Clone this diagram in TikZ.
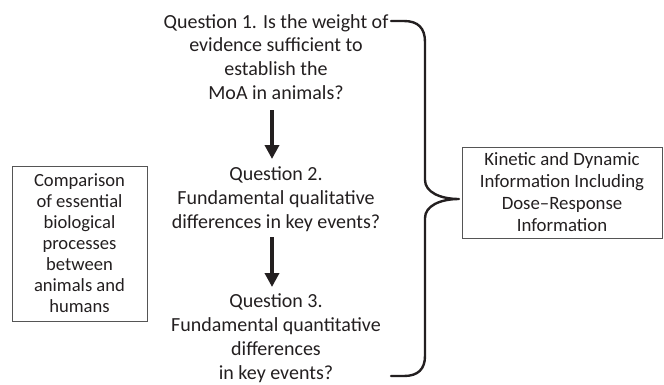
\documentclass[tikz,border=0pt]{standalone}
\usepackage{fontspec}
\setmainfont{Carlito}
\usetikzlibrary{arrows.meta}
\definecolor{ink}{HTML}{231F20}
\definecolor{frame}{HTML}{555555}
\begin{document}
\begin{tikzpicture}[x=1pt,y=-1pt,
  qtext/.style={align=center,inner sep=0pt,text=ink,font=\fontsize{20}{23.8}\selectfont},
  sidebox/.style={draw=frame,line width=0.9pt,inner sep=0pt,text=ink,align=center},
  flowarrow/.style={draw=ink,line width=4pt,-{Triangle[width=14pt,length=14pt]}},
  bracepath/.style={draw=ink,line width=2.4pt,line cap=round,line join=round}]
\useasboundingbox (0,0) rectangle (664,384);
% question texts
\node[qtext] (q1) at (276,57) {Question 1. Is the weight of\\evidence sufficient to\\establish the\\MoA in animals?};
\node[qtext] (q2) at (276,199) {Question 2.\\Fundamental qualitative\\differences in key events?};
\node[qtext] (q3) at (276,338) {Question 3.\\Fundamental quantitative\\differences\\in key events?};
% side boxes
\node[sidebox,minimum width=135pt,minimum height=155pt,font=\fontsize{18.6}{21}\selectfont] (cmp) at (79.5,243.5)
  {Comparison\\of essential\\biological\\processes\\between\\animals and\\humans};
\node[sidebox,minimum width=200pt,minimum height=91pt,font=\fontsize{18.8}{22}\selectfont] (kin) at (562,192.5)
  {Kinetic and Dynamic\\Information Including\\Dose--Response\\Information};
% arrows
\coordinate (a1s) at (272,110);
\coordinate (a1e) at (272,159);
\coordinate (a2s) at (272,237);
\coordinate (a2e) at (272,287);
\draw[flowarrow] (a1s) -- (a1e);
\draw[flowarrow] (a2s) -- (a2e);
% brace
\coordinate (btop) at (391,21);
\coordinate (bbot) at (391,376);
\coordinate (btip) at (459,199);
\draw[bracepath] (btop) -- (404,21) .. controls (418,21) and (425,28) .. (425,42)
  -- (425,180) .. controls (425,192) and (440,199) .. (btip)
  .. controls (440,199) and (425,206) .. (425,218)
  -- (425,356) .. controls (425,369) and (418,376) .. (404,376) -- (bbot);
\end{tikzpicture}
\end{document}
